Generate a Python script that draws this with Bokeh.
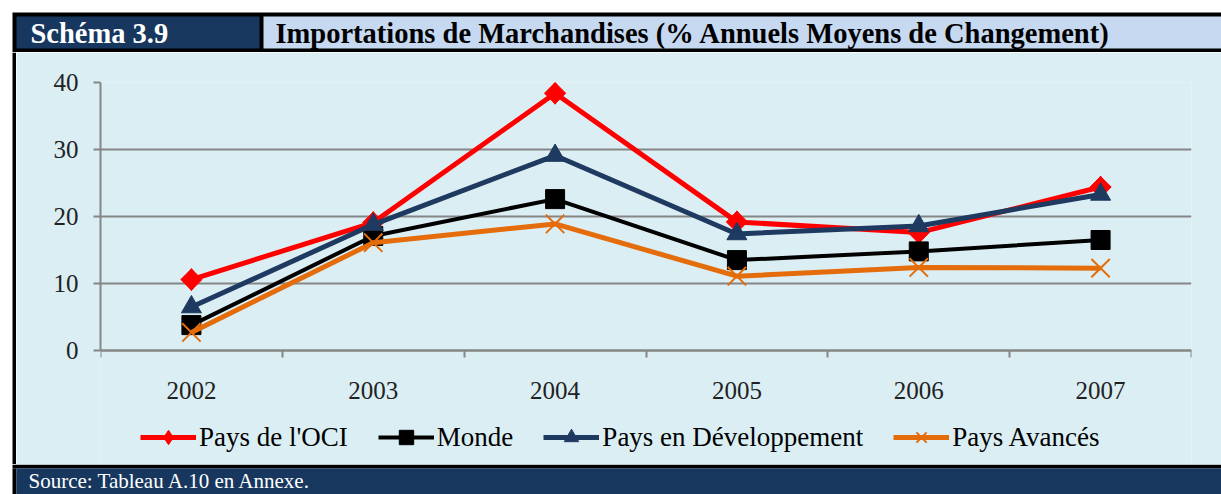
import math
from bokeh.plotting import figure
from bokeh.models import Range1d, FixedTicker, Legend, LegendItem
from bokeh.layouts import column, row
from bokeh.embed import file_html
from bokeh.resources import INLINE
from bokeh.core.properties import value

# ---------------- data ----------------
years = ["2002", "2003", "2004", "2005", "2006", "2007"]
oci = [10.6, 19.1, 38.4, 19.2, 17.6, 24.4]
monde = [3.8, 17.1, 22.6, 13.5, 14.8, 16.5]
dev = [6.5, 18.8, 29.1, 17.4, 18.6, 23.3]
avances = [2.7, 16.1, 18.9, 11.1, 12.4, 12.3]
y_ticks = [0, 10, 20, 30, 40]
series_names = ["Pays de l'OCI", "Monde", "Pays en Développement", "Pays Avancés"]
chart_number = "Schéma 3.9"
chart_title = "Importations de Marchandises (% Annuels Moyens de Changement)"
source_note = "Source: Tableau A.10 en Annexe."

# ---------------- styles ----------------
FONT = "Liberation Serif"
BG = "#DBEEF4"
NAVY = "#17375E"
LIGHT = "#C6D9F1"
GRAY = "#868686"
RED = "#FF0000"
BLACK = "#000000"
DEVC = "#1F3A60"
ORANGE = "#E46C0A"
W = 1221
HEAD_H = 52
MAIN_H = 412
FOOT_H = 30
STRIP_W = 16


def blank(width, height):
    f = figure(width=width, height=height, x_range=Range1d(0, width),
               y_range=Range1d(height, 0), output_backend="svg",
               toolbar_location=None, x_axis_type=None, y_axis_type=None,
               min_border=0, outline_line_color=None, frame_align=False,
               background_fill_color="white", border_fill_color="white")
    f.grid.visible = False
    return f


# ---------------- header ----------------
head = blank(W, HEAD_H)
head.quad(left=[12], right=[W], top=[12], bottom=[52], fill_color=BLACK, line_color=None)
head.quad(left=[16], right=[259], top=[16], bottom=[48], fill_color=NAVY, line_color=None)
head.quad(left=[263], right=[W], top=[16], bottom=[48], fill_color=LIGHT, line_color=None)
head.text(x=[30], y=[33], text=[chart_number], text_font=value(FONT), text_font_style="bold",
          text_font_size="28.5px", text_color="white", text_baseline="middle")
head.text(x=[275], y=[33], text=[chart_title], text_font=value(FONT), text_font_style="bold",
          text_font_size="28.5px", text_color=BLACK, text_baseline="middle")

# ---------------- left edge strip ----------------
strip = blank(STRIP_W, MAIN_H)
strip.quad(left=[12], right=[16], top=[0], bottom=[MAIN_H], fill_color=BLACK, line_color=None)

# ---------------- main chart ----------------
# frame runs down to the bottom of the box so the legend can sit inside it;
# the x axis is pinned at y = 0 and the y axis is bounded to 0..40
p = figure(width=W - STRIP_W, height=MAIN_H, x_range=Range1d(0, len(years)),
           y_range=Range1d(-17.0, 40),
           output_backend="svg", toolbar_location=None, frame_align=False,
           min_border_left=84, min_border_right=30, min_border_top=30, min_border_bottom=0,
           background_fill_color=BG, border_fill_color=BG, outline_line_color=None)

xs = [i + 0.5 for i in range(len(years))]

p.xaxis.fixed_location = 0
p.xaxis.bounds = (0, len(years))
p.xaxis.ticker = FixedTicker(ticks=xs, minor_ticks=list(range(len(years) + 1)))
p.xaxis.major_label_overrides = {x: y for x, y in zip(xs, years)}
p.xaxis.major_tick_out = 0
p.xaxis.major_tick_in = 0
p.xaxis.minor_tick_out = 7
p.xaxis.minor_tick_in = 0
p.xaxis.minor_tick_line_color = GRAY
p.xaxis.minor_tick_line_width = 2
p.xaxis.major_label_standoff = 24

p.yaxis.bounds = (0, 40)
p.yaxis.ticker = FixedTicker(ticks=y_ticks)
p.yaxis.major_tick_out = 7
p.yaxis.major_tick_in = 0
p.yaxis.minor_tick_line_color = None
p.yaxis.major_tick_line_color = GRAY
p.yaxis.major_tick_line_width = 2
p.yaxis.major_label_standoff = 15

for ax in (p.xaxis, p.yaxis):
    ax.axis_line_color = GRAY
    ax.axis_line_width = 2
    ax.major_label_text_font = FONT
    ax.major_label_text_font_size = "25px"
    ax.major_label_text_color = "#222222"

p.xgrid.visible = False
p.ygrid.grid_line_color = GRAY
p.ygrid.grid_line_width = 2

items = []

# Pays de l'OCI: line + diamond markers (a rotated square on top widens the diamond)
rl = p.line(xs, oci, line_color=RED, line_width=5)
rd = p.scatter(xs, oci, marker="diamond", size=22, fill_color=RED, line_color=RED)
p.scatter(xs, oci, marker="square", size=15, angle=math.pi / 4, fill_color=RED, line_color=RED)
items.append(LegendItem(label=series_names[0], renderers=[rl, rd]))

# Monde
rl = p.line(xs, monde, line_color=BLACK, line_width=4)
rm = p.scatter(xs, monde, marker="square", size=19, fill_color=BLACK, line_color=BLACK)
items.append(LegendItem(label=series_names[1], renderers=[rl, rm]))

# Pays en Développement
rl = p.line(xs, dev, line_color=DEVC, line_width=5)
rm = p.scatter(xs, dev, marker="triangle", size=20, fill_color=DEVC, line_color=DEVC)
items.append(LegendItem(label=series_names[2], renderers=[rl, rm]))

# Pays Avancés
rl = p.line(xs, avances, line_color=ORANGE, line_width=5)
rm = p.scatter(xs, avances, marker="x", size=26, line_color=ORANGE, line_width=2)
items.append(LegendItem(label=series_names[3], renderers=[rl, rm]))

legend = Legend(items=items, orientation="horizontal", location=(40, 9),
                label_text_font=FONT, label_text_font_size="27px", label_text_color=BLACK,
                glyph_width=56, glyph_height=36, label_standoff=3, spacing=30,
                padding=0, margin=0, background_fill_alpha=0, border_line_color=None)
p.add_layout(legend)

# ---------------- footer ----------------
foot = blank(W, FOOT_H)
foot.quad(left=[12], right=[W], top=[0], bottom=[4], fill_color=BLACK, line_color=None)
foot.quad(left=[12], right=[16], top=[4], bottom=[FOOT_H], fill_color=BLACK, line_color=None)
foot.quad(left=[16], right=[W], top=[4], bottom=[FOOT_H], fill_color=NAVY, line_color=None)
foot.text(x=[28], y=[16], text=[source_note], text_font=value(FONT), text_font_size="21px",
          text_color="white", text_baseline="middle")

layout = column(head, row(strip, p), foot)

open("out.html", "w").write(file_html(layout, INLINE))
